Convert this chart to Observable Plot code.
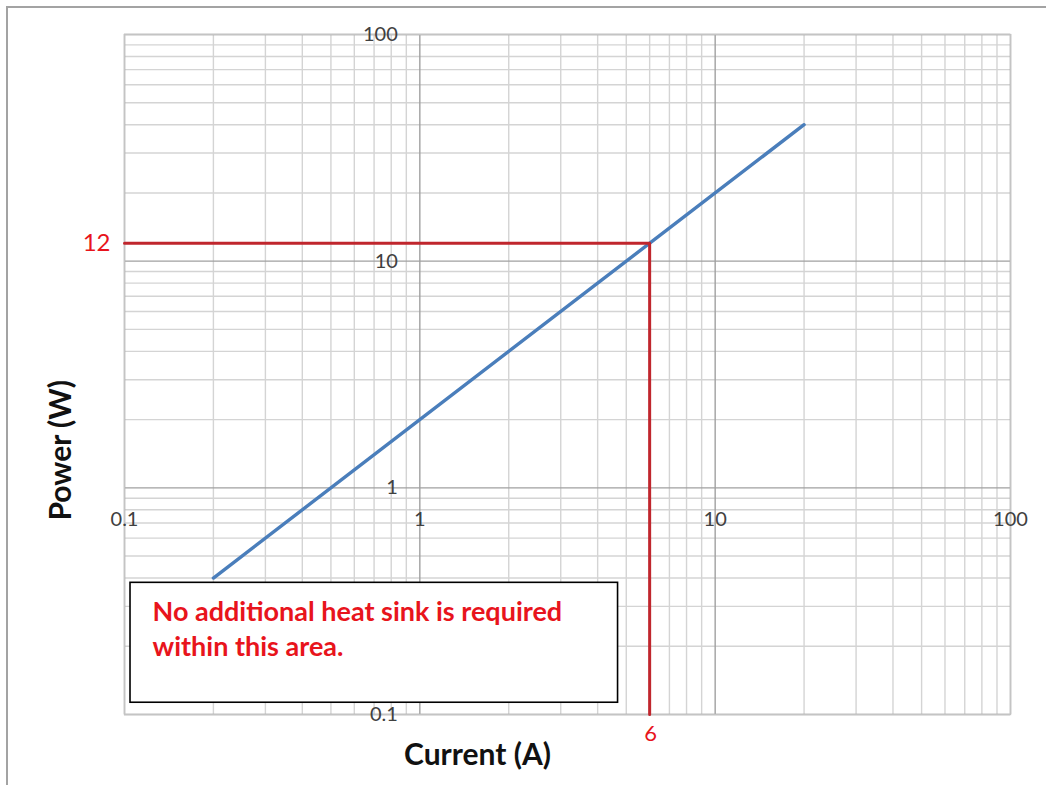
<!DOCTYPE html>
<html>
<head>
<meta charset="utf-8">
<script src="https://cdn.jsdelivr.net/npm/d3@7"></script>
<script src="https://cdn.jsdelivr.net/npm/@observablehq/plot@0.6"></script>
<style>
  html, body { margin: 0; padding: 0; background: #fff; overflow: hidden; }
  #wrap { position: relative; width: 1046px; height: 785px; overflow: hidden; }
  #border { position: absolute; left: 6px; top: 6px; width: 2000px; height: 2000px;
            border: 2px solid #a3a3a3; box-sizing: border-box; pointer-events: none; }
</style>
</head>
<body>
<div id="wrap"><div id="border"></div></div>
<script>
// Data
const currentA = [0.2, 20];          // Current (A)
const powerW = [0.4, 40];            // Power (W)
const refX = [0.1, 6, 6];            // red reference path
const refY = [12, 12, 0.1];
const refLabelX = ["6"];
const refLabelY = ["12"];
const xTickValues = [0.1, 1, 10, 100];
const xTickLabels = ["0.1", "1", "10", "100"];
const yTickValues = [0.1, 1, 10, 100];
const yTickLabels = ["0.1", "1", "10", "100"];
const noteText = ["No additional heat sink is required\nwithin this area."];
const noteBoxX = [0.1048, 4.69];
const noteBoxY = [0.1127, 0.381];

const minor = [];
for (const d of [0.1, 1, 10]) for (let k = 2; k <= 9; k++) minor.push(+(d * k).toPrecision(3));

const curve = currentA.map((c, i) => ({x: c, y: powerW[i]}));
const ref = refX.map((x, i) => ({x, y: refY[i]}));
const note = [{x1: noteBoxX[0], x2: noteBoxX[1], y1: noteBoxY[0], y2: noteBoxY[1], t: noteText[0]}];

const font = "Lato, 'Open Sans', sans-serif";

const chart = Plot.plot({
  width: 1046,
  height: 785,
  marginLeft: 124,
  marginRight: 36,
  marginTop: 34,
  marginBottom: 71,
  style: {fontFamily: font, background: "transparent"},
  x: {type: "log", domain: [0.1, 100], axis: null},
  y: {type: "log", domain: [0.1, 100], axis: null},
  marks: [
    Plot.ruleX(minor, {stroke: "#d4d4d4", strokeWidth: 1.4}),
    Plot.ruleY(minor, {stroke: "#d4d4d4", strokeWidth: 1.4}),
    Plot.ruleX(xTickValues, {stroke: "#a0a0a0", strokeWidth: 1.4}),
    Plot.ruleY(yTickValues, {stroke: "#a0a0a0", strokeWidth: 1.4}),
    Plot.frame({stroke: "#c4c4c4", strokeWidth: 1.4}),
    Plot.line(curve, {x: "x", y: "y", stroke: "#4a7ebb", strokeWidth: 3.4}),
    Plot.line(ref, {x: "x", y: "y", stroke: "#c0262d", strokeWidth: 3}),
    Plot.rect(note, {x1: "x1", x2: "x2", y1: "y1", y2: "y2", fill: "white", stroke: "black", strokeWidth: 1.6}),
    Plot.text(note, {x: "x1", y: "y2", text: "t", textAnchor: "start", lineAnchor: "top",
      dx: 22, dy: 13, fill: "#e8141c", fontSize: 27, fontWeight: "bold", lineHeight: 1.3}),
    Plot.text(xTickValues, {x: d => d, y: () => 1, text: (d, i) => xTickLabels[i],
      dy: 32, fill: "#404040", fontSize: 20}),
    Plot.text(yTickValues, {x: () => 1, y: d => d, text: (d, i) => yTickLabels[i],
      textAnchor: "end", dx: -22, fill: "#404040", fontSize: 20}),
    Plot.text(refLabelY, {x: () => 0.1, y: () => 12, text: d => d, textAnchor: "end",
      dx: -14, fill: "#e8141c", fontSize: 24}),
    Plot.text(refLabelX, {x: () => 6, y: () => 0.1, text: d => d, dx: 1, dy: 19,
      fill: "#e8141c", fontSize: 22}),
    Plot.text(["Power (W)"], {frameAnchor: "left", text: d => d, rotate: -90,
      dx: -63, dy: 146, fontSize: 30, fontWeight: "bold", fill: "#111"}),
    Plot.text(["Current (A)"], {frameAnchor: "bottom", text: d => d,
      dx: -90, dy: 50, fontSize: 30, fontWeight: "bold", fill: "#111"})
  ]
});
chart.style.position = "absolute";
chart.style.left = "0px";
chart.style.top = "0px";
document.getElementById("wrap").appendChild(chart);
</script>
</body>
</html>
